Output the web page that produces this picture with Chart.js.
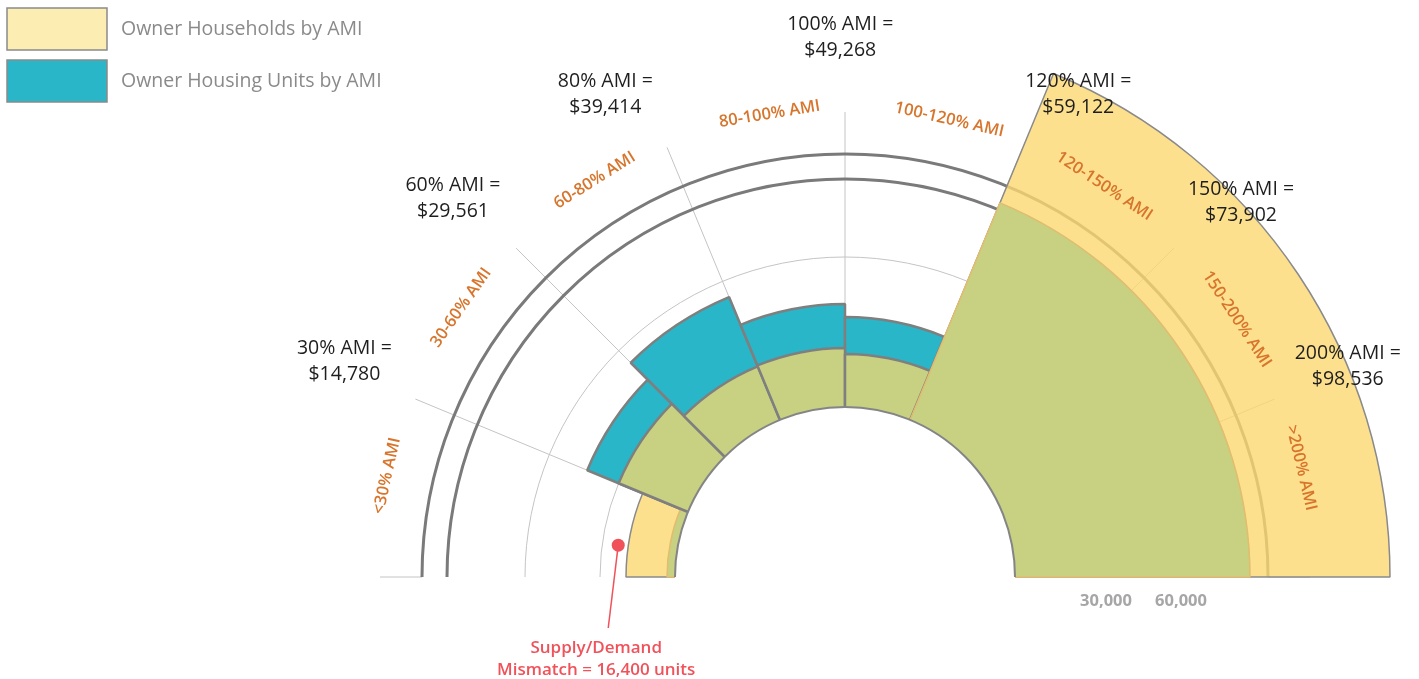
<!DOCTYPE html>
<html>
<head>
<meta charset="utf-8">
<script src="https://cdn.jsdelivr.net/npm/chart.js@4.4.1/dist/chart.umd.min.js"></script>
<style>
    html, body { margin: 0; padding: 0; background: #fff; overflow: hidden; }
    #wrap { position: relative; width: 1419px; height: 679px; overflow: hidden; }
</style>
</head>
<body>
<div id="wrap"><canvas id="amiChart" width="1419" height="1154"></canvas></div>
<script>
// 데이터
const categories = ['<30% AMI', '30-60% AMI', '60-80% AMI', '80-100% AMI', '100-120% AMI', '>120% AMI'];
const sectorAngles = [22.5, 22.5, 22.5, 22.5, 22.5, 67.5];
const households = [19600, 30000, 23200, 23600, 21200, 150000];
const units = [3200, 43600, 53200, 41200, 36000, 94000];

const bandLabels = ['<30% AMI', '30-60% AMI', '60-80% AMI', '80-100% AMI', '100-120% AMI', '120-150% AMI', '150-200% AMI', '>200% AMI'];
const thresholdLabels = [
    ['30% AMI =', '$14,780'],
    ['60% AMI =', '$29,561'],
    ['80% AMI =', '$39,414'],
    ['100% AMI =', '$49,268'],
    ['120% AMI =', '$59,122'],
    ['150% AMI =', '$73,902'],
    ['200% AMI =', '$98,536']
];
const radialTicks = [30000, 60000];

// 장식용 설정 (라벨 위치 보정: [각도, 반지름])
const FONT = '"Open Sans", "DejaVu Sans", sans-serif';
const GRAY = '#7f7f7f';
const ringValues = [91200, 101200];
const thresholdNudge = [[-0.8, 80], [1.0, 80], [3.9, 74], [0.5, 75], [-3.3, 71], [-1.6, 80], [0.2, 80]];
const bandNudge = [-1.2, -1.3, -1.5, -2.0, -1.6, 0.2, -0.4, 2.2];

const overlap = households.map((h, i) => Math.min(h, units[i]));

function polar(scale, deg, r) {
    const a = deg * Math.PI / 180;
    return { x: scale.xCenter + r * Math.cos(a), y: scale.yCenter - r * Math.sin(a) };
}

const decor = {
    id: 'decor',
    beforeDraw(chart) {
        const s = chart.scales.r;
        const ctx = chart.ctx;
        // 아래쪽 반원 잘라내기
        ctx.save();
        ctx.beginPath();
        ctx.rect(0, 0, chart.width, s.yCenter + 2);
        ctx.clip();
    },
    beforeDatasetsDraw(chart) {
        const s = chart.scales.r;
        const ctx = chart.ctx;
        const outer = s.drawingArea;
        const ringR = ringValues.map(v => s.getDistanceFromCenterForValue(v));

        ctx.save();
        // 눈금 원
        ctx.strokeStyle = '#c4c4c4';
        ctx.lineWidth = 1;
        radialTicks.forEach(v => {
            ctx.beginPath();
            ctx.arc(s.xCenter, s.yCenter, s.getDistanceFromCenterForValue(v), Math.PI, 2 * Math.PI);
            ctx.stroke();
        });
        // spokes
        for (let k = 0; k <= 8; k++) {
            const deg = 180 - k * 22.5;
            const from = (k === 0 || k === 8) ? ringR[1] : 0;
            const p1 = polar(s, deg, from);
            const p2 = polar(s, deg, outer);
            ctx.beginPath();
            ctx.moveTo(p1.x, p1.y);
            ctx.lineTo(p2.x, p2.y);
            ctx.stroke();
        }
        // dark rings
        ctx.strokeStyle = '#7a7a7a';
        ctx.lineWidth = 3;
        ringR.forEach(r => {
            ctx.beginPath();
            ctx.arc(s.xCenter, s.yCenter, r, Math.PI, 2 * Math.PI);
            ctx.stroke();
        });
        ctx.restore();
    },
    afterDatasetsDraw(chart) {
        const s = chart.scales.r;
        const ctx = chart.ctx;
        const r0 = s.getDistanceFromCenterForValue(0);

        // hole
        ctx.fillStyle = '#fff';
        ctx.beginPath();
        ctx.arc(s.xCenter, s.yCenter, r0, 0, 2 * Math.PI);
        ctx.fill();
        ctx.strokeStyle = '#858585';
        ctx.lineWidth = 2;
        ctx.beginPath();
        ctx.arc(s.xCenter, s.yCenter, r0, Math.PI, 2 * Math.PI);
        ctx.stroke();
        ctx.restore(); // clip 해제

        ctx.save();
        // 축 라벨
        ctx.font = 'bold 16.5px ' + FONT;
        ctx.fillStyle = '#a6a6a6';
        ctx.textAlign = 'center';
        ctx.textBaseline = 'middle';
        radialTicks.forEach(v => {
            ctx.fillText(v.toLocaleString('en-US'), s.xCenter + s.getDistanceFromCenterForValue(v) + 16, s.yCenter + 24);
        });

        // 구간 라벨 (회전)
        ctx.font = '600 16.5px ' + FONT;
        ctx.fillStyle = '#d8752c';
        bandLabels.forEach((t, i) => {
            const deg = 180 - (i + 0.5) * 22.5 + bandNudge[i];
            const p = polar(s, deg, s.drawingArea + 4);
            ctx.save();
            ctx.translate(p.x, p.y);
            ctx.rotate((90 - deg) * Math.PI / 180);
            ctx.fillText(t, 0, 0);
            ctx.restore();
        });

        // 경계 라벨
        ctx.font = '19.5px ' + FONT;
        ctx.fillStyle = '#1e1e1e';
        thresholdLabels.forEach((lines, i) => {
            const [dDeg, dR] = thresholdNudge[i];
            const p = polar(s, 180 - (i + 1) * 22.5 + dDeg, s.drawingArea + dR);
            ctx.fillText(lines[0], p.x, p.y - 13);
            ctx.fillText(lines[1], p.x, p.y + 13);
        });

        // 범례
        const legendItems = [
            [chart.data.datasets[0].label, '#fcedb3'],
            [chart.data.datasets[1].label, '#29b6c8']
        ];
        ctx.textAlign = 'left';
        ctx.font = '19.5px ' + FONT;
        legendItems.forEach(([text, color], i) => {
            const y = 8 + i * 52;
            ctx.fillStyle = color;
            ctx.fillRect(7, y, 100, 42);
            ctx.strokeStyle = '#8a8a8a';
            ctx.lineWidth = 1.5;
            ctx.strokeRect(7, y, 100, 42);
            ctx.fillStyle = '#8a8a8a';
            ctx.fillText(text, 121, y + 21);
        });

        // 수급 불일치 표시
        const red = '#f0525a';
        const dot = polar(s, 172, s.getDistanceFromCenterForValue(households[0]) + 10);
        ctx.strokeStyle = red;
        ctx.lineWidth = 1.5;
        ctx.beginPath();
        ctx.moveTo(dot.x, dot.y);
        ctx.lineTo(dot.x - 10, s.yCenter + 51);
        ctx.stroke();
        ctx.fillStyle = red;
        ctx.beginPath();
        ctx.arc(dot.x, dot.y, 6.5, 0, 2 * Math.PI);
        ctx.fill();
        ctx.textAlign = 'center';
        ctx.font = '600 17px ' + FONT;
        const gap = households[0] - units[0];
        ctx.fillText('Supply/Demand', dot.x - 22, s.yCenter + 71);
        ctx.fillText('Mismatch = ' + gap.toLocaleString('en-US') + ' units', dot.x - 22, s.yCenter + 93);
        ctx.restore();
    }
};

const sectorAngle = c => sectorAngles[c.dataIndex];
const unitsOver = i => units[i] > households[i];

new Chart(document.getElementById('amiChart'), {
    type: 'polarArea',
    data: {
        labels: categories,
        datasets: [
            {
                label: 'Owner Households by AMI',
                data: households,
                order: 3,
                angle: sectorAngle,
                backgroundColor: 'rgba(252,216,114,0.8)',
                borderColor: '#8a8a8a',
                borderWidth: 1.5,
                clip: false
            },
            {
                label: 'Owner Housing Units by AMI',
                data: units,
                order: 2,
                angle: sectorAngle,
                backgroundColor: '#29b6c8',
                borderColor: GRAY,
                borderWidth: c => unitsOver(c.dataIndex) ? 2.5 : 0,
                clip: false
            },
            {
                label: 'overlap',
                data: overlap,
                order: 1,
                angle: sectorAngle,
                backgroundColor: '#c8d081',
                borderColor: c => unitsOver(c.dataIndex) ? GRAY : '#e2bd6e',
                borderWidth: c => unitsOver(c.dataIndex) ? 2.5 : 1.5,
                clip: false
            }
        ]
    },
    options: {
        responsive: false,
        animation: false,
        events: [],
        layout: { padding: { left: 380, right: 109, top: 112, bottom: 112 } },
        scales: {
            r: {
                startAngle: -90,
                min: -68000,
                max: 118000,
                ticks: { display: false, stepSize: 30000 },
                pointLabels: { display: false },
                angleLines: { display: false },
                grid: { display: false }
            }
        },
        plugins: {
            legend: { display: false },
            tooltip: { enabled: false }
        }
    },
    plugins: [decor]
});
</script>
</body>
</html>
